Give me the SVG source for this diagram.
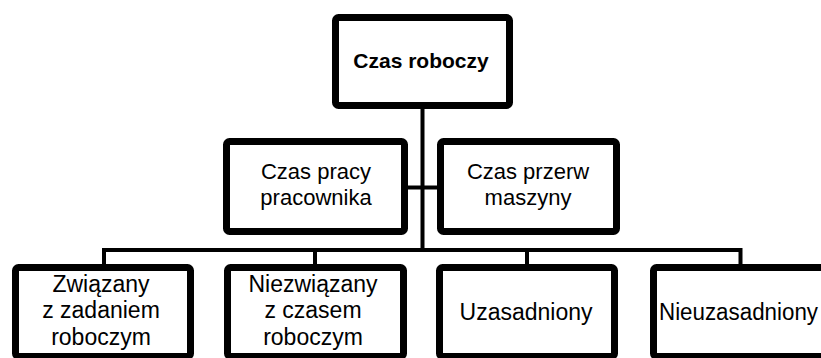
<svg xmlns="http://www.w3.org/2000/svg" width="821" height="358" viewBox="0 0 821 358">
<style>
.box{fill:#fff;stroke:#000;stroke-width:7;}
.conn{fill:none;stroke:#000;stroke-width:4;stroke-linejoin:miter;}
.t{font-family:"Liberation Sans",Arial,sans-serif;font-size:22px;fill:#000;text-anchor:middle;}
.s{font-size:23px;}
.b{font-weight:bold;font-size:21px;}
</style>
<rect width="821" height="358" fill="#fff"/>
<g id="connectors">
<path class="conn" d="M422.5 109 V250"/>
<path class="conn" d="M408 187.5 H437"/>
<path class="conn" d="M104 264 V250 H740.5 V264"/>
<path class="conn" d="M315 250 V264"/>
<path class="conn" d="M527 250 V264"/>
</g>
<g id="czas-roboczy">
<rect class="box" x="335.5" y="17.5" width="174" height="88" rx="3"/>
<text class="t b" x="421" y="68">Czas roboczy</text>
</g>
<g id="czas-pracy-pracownika">
<rect class="box" x="226.5" y="141.5" width="178" height="90" rx="3"/>
<text class="t" x="316" y="179">Czas pracy</text>
<text class="t" x="316" y="205">pracownika</text>
</g>
<g id="czas-przerw-maszyny">
<rect class="box" x="440.5" y="141.5" width="176" height="90" rx="3"/>
<text class="t" x="528" y="179">Czas przerw</text>
<text class="t" x="528" y="205">maszyny</text>
</g>
<g id="zwiazany">
<rect class="box" x="15.5" y="267.5" width="175" height="89" rx="3"/>
<text class="t s" x="101" y="292">Związany</text>
<text class="t s" x="101" y="318">z zadaniem</text>
<text class="t s" x="101" y="345">roboczym</text>
</g>
<g id="niezwiazany">
<rect class="box" x="227.5" y="267.5" width="176" height="89" rx="3"/>
<text class="t s" x="313" y="292">Niezwiązany</text>
<text class="t s" x="313" y="318">z czasem</text>
<text class="t s" x="313" y="345">roboczym</text>
</g>
<g id="uzasadniony">
<rect class="box" x="439.5" y="267.5" width="175" height="89" rx="3"/>
<text class="t s" x="526" y="320">Uzasadniony</text>
</g>
<g id="nieuzasadniony">
<rect class="box" x="653.5" y="267.5" width="200" height="89" rx="3"/>
<text class="t s" x="659" y="320" style="text-anchor:start" textLength="159" lengthAdjust="spacingAndGlyphs">Nieuzasadniony</text>
</g>
</svg>
